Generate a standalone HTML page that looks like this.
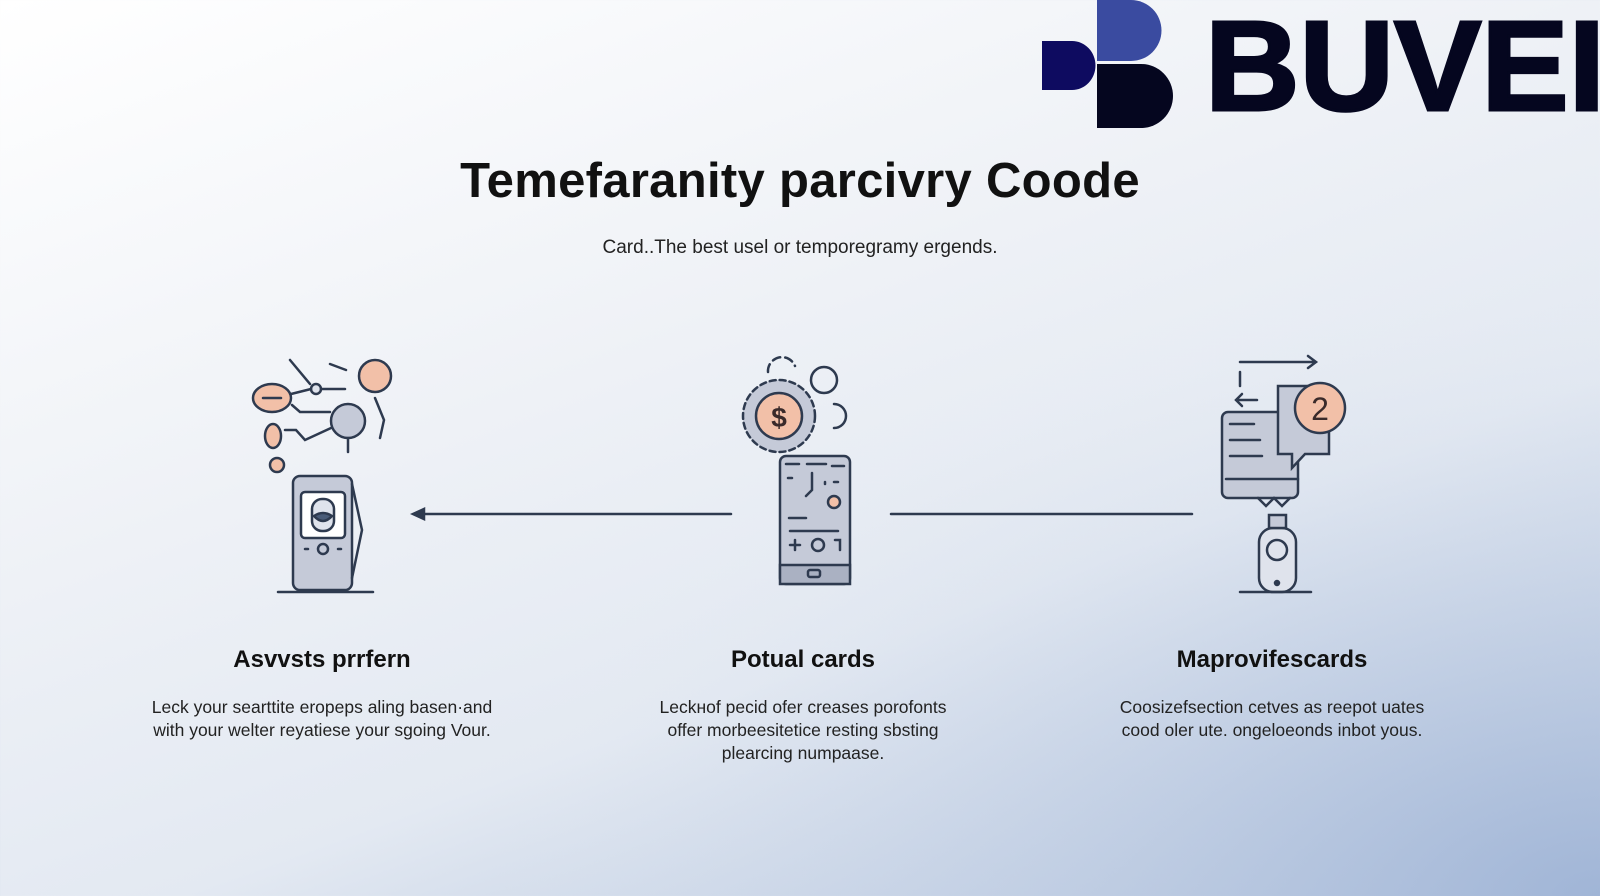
<!DOCTYPE html>
<html><head><meta charset="utf-8"><style>
html,body{margin:0;padding:0}
body{width:1600px;height:896px;overflow:hidden;position:relative;font-family:"Liberation Sans",sans-serif;
background:linear-gradient(160deg,#ffffff 0%,#eef1f6 40%,#e3e9f2 65%,#a9bcd9 100%);}
.t{position:absolute;left:0;width:1600px;text-align:center;color:#111;}
</style></head><body>
<svg width="1600" height="896" style="position:absolute;left:0;top:0">
<defs><radialGradient id="bg" cx="1" cy="1" r="0.7"><stop offset="0" stop-color="#9fb4d6" stop-opacity="0.9"/><stop offset="1" stop-color="#e6ebf3" stop-opacity="0"/></radialGradient></defs>
<rect width="1600" height="896" fill="url(#bg)"/>
<!-- logo -->
<path d="M1042 41 H1072 A23 24 0 0 1 1072 90 H1042 Z" fill="#0e0b60"/>
<path d="M1097 0 H1131 A30 30 0 0 1 1131 61 H1097 Z" fill="#3a4ba0"/>
<path d="M1097 64 H1141 A32 32 0 0 1 1141 128 H1097 Z" fill="#05061f"/>
<text x="1205" y="110" font-family="Liberation Sans" font-weight="bold" font-size="128" fill="#05061f" stroke="#05061f" stroke-width="3" textLength="400" lengthAdjust="spacingAndGlyphs">BUVEI</text>
<g stroke="#2e3a4f" stroke-width="2.5" fill="none" stroke-linecap="round">
<!-- connectors -->
<line x1="416" y1="514" x2="731" y2="514"/>
<path d="M413 514 L424 509 L424 519 Z" fill="#2e3a4f"/>
<line x1="891" y1="514" x2="1192" y2="514"/>
<!-- left icon -->
<rect x="293" y="476" width="59" height="114" rx="7" fill="#c5cad8"/>
<path d="M352 484 L362 530 L352 578"/>
<rect x="301" y="492" width="44" height="46" rx="4" fill="#fff"/>
<rect x="312" y="499" width="22" height="32" rx="10" fill="#dfe3ec"/>
<path d="M314 516 Q323 510 332 516 Q323 526 314 516" fill="#4a5c78"/>
<circle cx="323" cy="549" r="5"/><line x1="305" y1="549" x2="308" y2="549"/><line x1="338" y1="549" x2="341" y2="549"/>
<line x1="278" y1="592" x2="373" y2="592"/>
<circle cx="348" cy="421" r="17" fill="#c5cad8"/>
<line x1="348" y1="438" x2="348" y2="452"/>
<circle cx="375" cy="376" r="16" fill="#f2c0a8"/>
<ellipse cx="272" cy="398" rx="19" ry="14" fill="#f2c0a8"/><line x1="263" y1="398" x2="281" y2="398"/>
<ellipse cx="273" cy="436" rx="8" ry="12" fill="#f2c0a8"/>
<circle cx="277" cy="465" r="7" fill="#f2c0a8"/>
<circle cx="316" cy="389" r="5" fill="#dfe3ec"/>
<path d="M291 394 L311 389 M321 389 H345 M292 405 L300 412 H330 M285 430 H296 L305 440 L331 428 M290 360 L310 384 M330 364 L346 370 M375 398 L384 420 L380 438"/>
<!-- middle icon -->
<circle cx="779" cy="416" r="36" fill="#c5cad8" stroke-dasharray="6 4"/>
<circle cx="779" cy="416" r="23" fill="#f2c0a8"/>
<text x="779" y="427" text-anchor="middle" font-family="Liberation Sans" font-weight="bold" font-size="28" fill="#3a2a2a" stroke="none">$</text>
<circle cx="824" cy="380" r="13"/>
<path d="M834 404 A12 12 0 0 1 834 428"/>
<path d="M768 372 A14 14 0 0 1 795 366" stroke-dasharray="8 5"/>
<rect x="780" y="456" width="70" height="128" rx="6" fill="#c5cad8"/>
<rect x="780" y="565" width="70" height="19" fill="#aab1c2"/>
<rect x="808" y="570" width="12" height="7" rx="2"/>
<path d="M786 464 H799 M807 464 H826 M832 466 H844 M788 478 H792 M812 473 V490 L806 496 M825 482 V484 M834 482 H838 M789 518 H806 M790 531 H838 M790 545 H800 M795 540 V550 M835 540 H840 V550"/>
<circle cx="818" cy="545" r="6"/>
<circle cx="834" cy="502" r="6" fill="#f2c0a8"/>
<!-- right icon -->
<path d="M1240 386 V372 M1240 362 H1316 M1308 356 L1316 362 L1308 368" />
<path d="M1257 400 H1236 M1242 394 L1236 400 L1242 406"/>
<rect x="1222" y="412" width="76" height="86" rx="6" fill="#c5cad8"/>
<path d="M1230 424 H1254 M1230 440 H1260 M1230 456 H1262 M1226 479 H1298"/>
<path d="M1278 386 H1329 V454 H1305 L1292 468 V454 H1278 Z" fill="#c5cad8"/>
<path d="M1258 498 L1266 506 L1274 498 L1282 506 L1290 498"/>
<circle cx="1320" cy="408" r="25" fill="#f2c0a8"/>
<text x="1320" y="420" text-anchor="middle" font-family="Liberation Sans" font-size="32" fill="#3a2a2a" stroke="none">2</text>
<rect x="1259" y="528" width="37" height="64" rx="14" fill="#dfe3ec"/>
<rect x="1269" y="515" width="17" height="13" fill="#c5cad8"/>
<circle cx="1277" cy="550" r="10"/>
<circle cx="1277" cy="583" r="2" fill="#2e3a4f"/>
<line x1="1240" y1="592" x2="1311" y2="592"/>
</g>
</svg>
<div class="t" style="top:153px;font-size:49px;font-weight:bold;left:0;letter-spacing:0.3px">Temefaranity parcivry Coode</div>
<div class="t" style="top:237px;font-size:19px;color:#222">Card..The best usel or temporegramy ergends.</div>
<div class="t" style="top:646px;font-size:24px;font-weight:bold;left:-478px">Asvvsts prrfern</div>
<div class="t" style="top:646px;font-size:24px;font-weight:bold;left:3px">Potual cards</div>
<div class="t" style="top:646px;font-size:24px;font-weight:bold;left:472px">Maprovifescards</div>
<div class="t" style="top:696px;font-size:17.5px;line-height:23px;color:#222;left:-478px">Leck your searttite eropeps aling basen·and<br>with your welter reyatiese your sgoing Vour.</div>
<div class="t" style="top:696px;font-size:17.5px;line-height:23px;color:#222;left:3px">Leckнof pecid ofer creases porofonts<br>offer morbeesitetice resting sbsting<br>plearcing numpaase.</div>
<div class="t" style="top:696px;font-size:17.5px;line-height:23px;color:#222;left:472px">Coosizefsection cetves as reepot uates<br>cood oler ute. ongeloeonds inbot yous.</div>
</body></html>
